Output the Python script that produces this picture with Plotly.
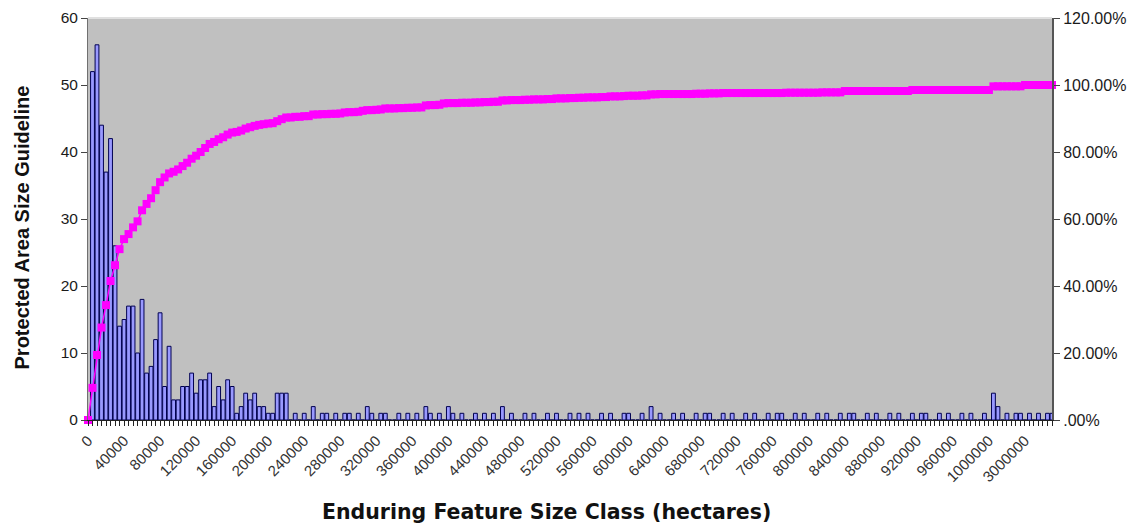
import plotly.graph_objects as go

# ---- data ----
size_classes = [str(5000 * i) for i in range(201)] + [
    "1250000", "1500000", "1750000", "2000000", "2250000", "2500000", "2750000",
    "3000000", "3250000", "3500000", "3750000", "4000000", "4250000", "4500000"]

guideline_counts = [
    0, 52, 56, 44, 37, 42, 26, 14, 15, 17, 17, 10, 18, 7, 8, 12, 16, 5, 11, 3,
    3, 5, 5, 7, 4, 6, 6, 7, 2, 5, 3, 6, 5, 1, 2, 4, 3, 4, 2, 2,
    1, 1, 4, 4, 4, 0, 1, 0, 1, 0, 2, 0, 1, 1, 0, 1, 0, 1, 1, 0,
    1, 0, 2, 1, 0, 1, 1, 0, 0, 1, 0, 1, 0, 1, 0, 2, 1, 0, 1, 0,
    2, 1, 0, 1, 0, 0, 1, 0, 1, 0, 1, 0, 2, 0, 1, 0, 0, 1, 0, 1,
    0, 0, 1, 0, 1, 0, 0, 1, 0, 1, 0, 1, 0, 0, 1, 0, 1, 0, 0, 1,
    1, 0, 0, 1, 0, 2, 0, 1, 0, 0, 1, 0, 1, 0, 0, 1, 0, 1, 1, 0,
    0, 1, 0, 1, 0, 0, 1, 0, 1, 0, 0, 1, 0, 1, 1, 0, 0, 1, 0, 1,
    0, 0, 1, 0, 1, 0, 0, 1, 0, 1, 1, 0, 0, 1, 0, 1, 0, 0, 1, 0,
    1, 0, 0, 1, 0, 1, 1, 0, 0, 1, 0, 1, 0, 0, 1, 0, 1, 0, 0, 1,
    0, 4, 2, 0, 1, 0, 1, 1, 0, 1, 0, 1, 0, 1, 1]

cumulative_pct = [
    0, 9.6, 19.4, 27.6, 34.3, 41.5, 46.2, 51.0, 54.0, 55.5,
    57.5, 59.3, 62.6, 64.5, 66.2, 68.6, 71.0, 72.4, 73.6, 74.1,
    74.8, 75.8, 76.8, 78.0, 78.9, 80.0, 81.2, 82.4, 83.0, 83.8,
    84.4, 85.2, 85.8, 86.0, 86.4, 87.0, 87.4, 87.8, 88.1, 88.3,
    88.5, 88.6, 89.2, 89.8, 90.3, 90.3, 90.5, 90.5, 90.7, 90.7,
    91.2, 91.2, 91.3, 91.3, 91.4, 91.4, 91.5, 91.8, 91.9, 91.9,
    92.0, 92.3, 92.5, 92.5, 92.6, 92.7, 93.0, 93.0, 93.0, 93.1,
    93.1, 93.2, 93.2, 93.3, 93.3, 93.9, 94.0, 94.0, 94.1, 94.5,
    94.6, 94.6, 94.6, 94.7, 94.7, 94.7, 94.8, 94.8, 94.9, 94.9,
    95.0, 95.0, 95.4, 95.4, 95.5, 95.5, 95.5, 95.6, 95.6, 95.7,
    95.7, 95.7, 95.8, 95.8, 96.0, 96.0, 96.0, 96.1, 96.1, 96.2,
    96.2, 96.3, 96.3, 96.3, 96.4, 96.4, 96.6, 96.6, 96.6, 96.7,
    96.8, 96.8, 96.8, 96.9, 96.9, 97.2, 97.2, 97.3, 97.3, 97.3,
    97.3, 97.3, 97.3, 97.3, 97.3, 97.4, 97.4, 97.4, 97.5, 97.5,
    97.5, 97.6, 97.6, 97.6, 97.6, 97.6, 97.6, 97.6, 97.6, 97.6,
    97.6, 97.6, 97.6, 97.6, 97.6, 97.7, 97.7, 97.7, 97.7, 97.7,
    97.7, 97.7, 97.7, 97.8, 97.8, 97.8, 97.8, 97.8, 98.2, 98.2,
    98.2, 98.2, 98.2, 98.2, 98.2, 98.2, 98.2, 98.2, 98.2, 98.2,
    98.2, 98.2, 98.2, 98.5, 98.5, 98.5, 98.5, 98.5, 98.5, 98.5,
    98.5, 98.5, 98.5, 98.5, 98.5, 98.5, 98.5, 98.5, 98.5, 98.5,
    98.5, 99.6, 99.6, 99.6, 99.6, 99.6, 99.6, 99.6, 100.0, 100.0,
    100.0, 100.0, 100.0, 100.0, 100.0]

label_step_classes = size_classes[0:209:8]
pct_ticks = [0, 20, 40, 60, 80, 100, 120]
pct_tick_text = [".00%", "20.00%", "40.00%", "60.00%", "80.00%", "100.00%", "120.00%"]
count_ticks = [0, 10, 20, 30, 40, 50, 60]

FONT = "Liberation Sans, Arial, sans-serif"
WIDE = "DejaVu Sans, Verdana, sans-serif"
NARROW = "Liberation Sans Narrow, Arial Narrow, Liberation Sans, Arial, sans-serif"

fig = go.Figure()
fig.add_trace(go.Bar(
    x=size_classes, y=guideline_counts,
    marker=dict(color="#9999FF", line=dict(color="#000050", width=1)),
    name="Protected Area Size Guideline", yaxis="y"))
fig.add_trace(go.Scatter(
    x=size_classes, y=cumulative_pct, mode="lines+markers",
    line=dict(color="#FF00FF", width=1.5),
    marker=dict(symbol="square", size=8, color="#FF00FF"),
    cliponaxis=False, name="Cumulative %", yaxis="y2"))

tick_text = [c if c in label_step_classes else "" for c in size_classes]

# the page body adds an 8px offset; the figure is sized so the plot lands where the reference has it
fig.update_layout(
    width=1135, height=517,
    margin=dict(l=80, r=91, t=10, b=105, autoexpand=False),
    paper_bgcolor="white", plot_bgcolor="#C0C0C0",
    showlegend=False, bargap=0.15,
    font=dict(family=FONT, color="#1a1a1a"),
    xaxis=dict(type="category", range=[0, len(size_classes) - 1], automargin=False,
               tickmode="array", tickvals=size_classes, ticktext=tick_text,
               tickangle=-45, ticks="outside", ticklen=5, tickcolor="#222",
               tickfont=dict(size=15, color="#333"),
               showline=True, linecolor="#222", linewidth=1,
               showgrid=False, zeroline=False),
    yaxis=dict(range=[0, 60], tickvals=count_ticks, ticks="outside", ticklen=6,
               automargin=False,
               tickcolor="#444", tickfont=dict(size=15.5, color="#1a1a1a"),
               showline=True, linecolor="#707070", linewidth=1,
               showgrid=False, zeroline=False),
    yaxis2=dict(range=[0, 120], overlaying="y", side="right", automargin=False,
                tickvals=pct_ticks, ticktext=pct_tick_text, ticks="outside",
                ticklen=6, tickcolor="#444", tickfont=dict(size=16, color="#1a1a1a"),
                showline=True, linecolor="#555", linewidth=2,
                showgrid=False, zeroline=False),
    annotations=[
        dict(text="<b>Enduring Feature Size Class (hectares)</b>", xref="paper", yref="paper",
             x=0.476, y=-0.229, xanchor="center", yanchor="middle", showarrow=False,
             font=dict(size=20.5, family=WIDE, color="#111")),
        dict(text="<b>Protected Area Size Guideline</b>", xref="paper", yref="paper",
             x=-0.068, y=0.48, xanchor="center", yanchor="middle", showarrow=False,
             textangle=-90, font=dict(size=20, family=NARROW, color="#111")),
    ],
    shapes=[dict(type="line", xref="paper", yref="paper", x0=0, x1=1, y0=1, y1=1,
                 line=dict(color="#E0E0E0", width=2))],
)

fig.write_html("out.html")
